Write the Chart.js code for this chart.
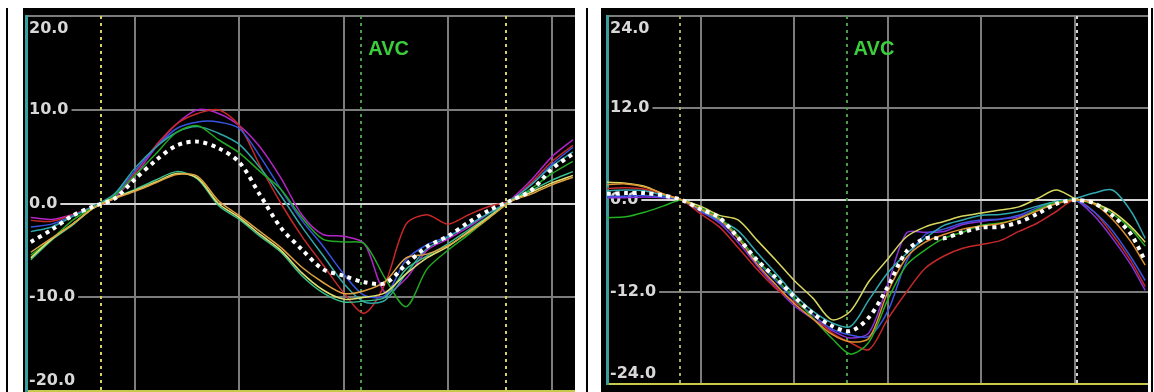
<!DOCTYPE html>
<html>
<head>
<meta charset="utf-8">
<script src="https://cdn.jsdelivr.net/npm/chart.js@4.4.1/dist/chart.umd.min.js"></script>
<style>
  body { margin: 0; background: #fff; width: 1154px; height: 392px; overflow: hidden; position: relative; }
  .panel { position: absolute; top: 8px; height: 384px; background: #000; }
  .rule { position: absolute; top: 8px; height: 384px; width: 2px; background: #000; }
</style>
</head>
<body>
<div class="rule" style="left:6px"></div>
<div class="panel" style="left:23px;width:552px"><canvas id="left"></canvas></div>
<div class="rule" style="left:586px"></div>
<div class="panel" style="left:601px;width:547px"><canvas id="right"></canvas></div>
<div class="rule" style="left:1151px"></div>
<script>
// left panel: time (ms) and strain curves
const leftTime = [0,20,40,60,80,100,120,140,160,180,200,220,240,260,280,300,320,340,360,380,400,420,440,460,480,500,520];
const leftMean    = [-4.1,-2.8,-1.3,-0.3,0.5,2.6,4.6,6.2,6.6,5.9,4.4,0.9,-2.6,-4.9,-7.0,-7.7,-8.4,-8.5,-6.5,-4.6,-3.5,-2.0,-0.7,0.3,1.4,3.7,5.3];
const leftMagenta = [-1.5,-1.7,-1.2,-0.4,0.6,3.0,6.0,8.5,10.0,9.6,8.3,6.0,2.7,-1.2,-3.3,-3.5,-4.3,-9.5,-8.0,-5.0,-3.8,-2.5,-1.0,0.4,2.5,5.0,6.8];
const leftRed     = [-1.8,-1.9,-1.2,-0.3,0.8,3.3,6.2,8.5,9.6,10.0,8.3,4.0,0.0,-3.5,-6.5,-9.5,-11.7,-8.5,-2.2,-1.2,-2.2,-1.2,-0.3,0.3,2.2,4.5,6.2];
const leftBlue    = [-2.5,-2.2,-1.3,-0.3,0.9,3.5,6.0,8.0,8.7,8.7,8.0,5.0,1.5,-1.8,-4.5,-7.5,-9.8,-9.8,-6.0,-4.4,-3.5,-2.3,-1.0,0.3,2.0,4.2,6.0];
const leftGreen   = [-5.5,-3.8,-1.8,-0.4,0.8,3.0,5.3,7.6,8.3,6.8,5.4,3.4,1.5,-1.5,-3.8,-4.1,-4.3,-8.0,-11.0,-7.0,-5.0,-3.3,-1.5,0.2,1.6,3.2,4.5];
const leftTeal    = [-3.0,-2.5,-1.4,-0.3,1.0,3.8,6.0,7.6,8.2,7.5,6.3,3.8,0.8,-2.5,-5.5,-8.5,-10.5,-10.3,-7.5,-4.8,-3.6,-2.3,-1.0,0.3,2.0,4.0,5.5];
const leftSea     = [-6.0,-3.9,-2.3,-0.5,0.6,1.5,2.5,3.4,2.6,-0.2,-1.7,-3.5,-5.2,-7.7,-9.5,-10.5,-10.4,-10.0,-7.0,-5.6,-4.3,-2.8,-1.3,0.3,1.4,2.5,3.4];
const leftYellow  = [-5.8,-3.8,-2.2,-0.5,0.6,1.4,2.3,3.2,2.7,0.0,-1.5,-3.3,-5.0,-7.4,-9.2,-10.2,-10.0,-9.5,-7.5,-5.8,-4.6,-3.0,-1.4,0.2,1.2,2.2,3.0];
const leftOrange  = [-5.2,-3.7,-2.2,-0.5,0.5,1.3,2.2,3.1,2.9,0.3,-1.3,-3.0,-4.7,-6.8,-8.4,-9.6,-9.3,-8.3,-5.8,-5.4,-4.5,-3.1,-1.5,0.2,1.0,2.0,2.8];
const leftEvents  = [67, 317, 456];

// right panel
const rightTime = [0,20,40,60,80,100,120,140,160,180,200,220,240,260,280,300,320,340,360,380,400,420,440,460,480,500,520,540,560,575];
const rightMean    = [0.8,0.9,0.9,0.6,0.0,-1.2,-2.3,-4.9,-7.8,-10.1,-12.6,-14.8,-16.4,-17.1,-15.3,-11.3,-6.7,-5.0,-5.0,-4.2,-3.6,-3.5,-2.9,-1.8,-0.5,0.0,-0.4,-2.0,-4.5,-8.0];
const rightRed     = [1.5,1.6,1.4,0.7,0.0,-1.8,-3.5,-6.2,-9.0,-11.5,-13.3,-15.0,-17.3,-18.6,-19.5,-15.5,-12.0,-8.9,-7.3,-6.3,-5.8,-5.3,-4.1,-3.0,-1.5,0.0,-1.5,-4.5,-8.0,-11.3];
const rightGreen   = [-2.3,-2.2,-1.6,-0.8,0.0,-1.0,-2.3,-4.7,-7.8,-10.2,-12.8,-15.4,-18.0,-20.1,-18.5,-13.0,-8.5,-6.5,-5.0,-4.2,-3.3,-3.0,-2.4,-1.2,-0.3,0.0,-0.5,-1.8,-3.8,-6.0];
const rightYellow  = [2.3,2.2,1.8,0.8,0.0,-0.8,-2.0,-2.6,-5.2,-7.8,-10.5,-12.8,-15.6,-14.5,-10.6,-7.7,-4.8,-3.5,-2.8,-2.1,-1.7,-1.3,-0.9,0.2,1.3,0.2,-0.4,-1.5,-3.5,-5.5];
const rightBlue    = [0.5,0.5,0.6,0.4,0.0,-1.4,-2.8,-5.0,-8.0,-10.5,-13.0,-15.0,-16.8,-17.6,-17.8,-14.5,-8.0,-4.5,-3.8,-3.0,-2.6,-2.5,-2.0,-1.0,-0.2,0.0,-1.5,-4.0,-7.5,-10.5];
const rightMagenta = [0.3,0.3,0.4,0.3,0.0,-1.5,-3.0,-5.5,-8.5,-11.3,-13.8,-15.5,-17.0,-18.0,-17.3,-11.0,-4.3,-4.2,-4.1,-3.2,-2.8,-2.5,-2.2,-1.3,-0.4,0.0,-2.0,-5.0,-8.5,-11.8];
const rightTeal    = [1.2,1.3,1.2,0.6,0.0,-1.3,-2.6,-4.0,-6.8,-9.5,-12.3,-14.5,-16.0,-16.5,-13.0,-9.5,-7.0,-5.0,-3.3,-2.6,-2.0,-1.9,-1.5,-0.8,-0.2,0.2,0.9,1.3,-1.5,-5.0];
const rightOrange  = [2.0,2.1,1.7,0.8,0.0,-1.2,-2.5,-5.0,-8.3,-11.0,-13.5,-15.5,-17.5,-18.5,-18.0,-12.0,-7.5,-5.5,-4.5,-3.8,-3.4,-3.1,-2.4,-1.4,-0.5,0.0,-0.5,-2.5,-5.5,-8.5];
const rightEvents  = [78, 256, 502];

const eventLabel = 'AVC';

const panelDecor = {
  id: 'panelDecor',
  beforeDatasetsDraw(chart, args, o) {
    const {ctx, chartArea: a, scales: {x, y}} = chart;
    ctx.save();
    o.events.forEach((at, i) => {
      const px = Math.round(x.getPixelForValue(at));
      ctx.strokeStyle = o.eventColors[i];
      ctx.lineWidth = 2;
      ctx.setLineDash([3, 4]);
      ctx.beginPath();
      ctx.moveTo(px, a.top);
      ctx.lineTo(px, a.bottom);
      ctx.stroke();
    });
    ctx.setLineDash([]);

    ctx.textBaseline = 'middle';
    ctx.textAlign = 'left';
    ctx.font = 'bold 20px "Liberation Sans", Arial, sans-serif';
    ctx.fillStyle = '#3ccd3c';
    ctx.fillText(eventLabel, x.getPixelForValue(o.events[1]) + 7, a.top + 33);

    ctx.font = 'bold 16px "DejaVu Sans", sans-serif';
    y.ticks.forEach(t => {
      let py = y.getPixelForValue(t.value);
      if (t.value === y.max) py += 13;
      else if (t.value === y.min) py -= 10;
      const txt = t.value.toFixed(1);
      const w = ctx.measureText(txt).width;
      ctx.fillStyle = '#000';
      ctx.fillRect(a.left + 2, py - 9, w + 4, 18);
      ctx.fillStyle = '#d8d8d8';
      ctx.fillText(txt, a.left + 3, py);
    });
    ctx.restore();
  }
};

function series(xs, ys, color, width) {
  return {
    data: xs.map((t, i) => ({x: t, y: ys[i]})),
    borderColor: color,
    borderWidth: width || 1.5,
    pointRadius: 0,
    tension: 0.3,
    order: 1
  };
}

function makePanel(id, xs, lines, mean, cfg) {
  const meanSet = series(xs, mean, '#ffffff', 4);
  meanSet.borderDash = [4, 4.5];
  meanSet.order = 0;
  return new Chart(document.getElementById(id), {
    type: 'line',
    data: { datasets: [meanSet].concat(lines.map(l => series(xs, l[0], l[1]))) },
    options: {
      responsive: true,
      maintainAspectRatio: false,
      animation: false,
      devicePixelRatio: 1,
      layout: { padding: cfg.padding },
      plugins: {
        legend: { display: false },
        tooltip: { enabled: false },
        panelDecor: { events: cfg.events, eventColors: cfg.eventColors }
      },
      scales: {
        x: {
          type: 'linear',
          min: cfg.xMin, max: cfg.xMax,
          ticks: { display: false, stepSize: 100, includeBounds: false },
          grid: { drawTicks: false, lineWidth: 2,
                  color: c => (c.tick && c.tick.value === 0 && cfg.xMin < 0) ? 'rgba(0,0,0,0)' : '#7c7c7c' },
          border: { color: '#c8c84a', width: 2 }
        },
        y: {
          min: -cfg.yMax, max: cfg.yMax,
          ticks: { display: false, stepSize: cfg.yMax / 2 },
          grid: { drawTicks: false, lineWidth: 2,
                  color: c => (c.tick && c.tick.value === 0) ? '#d4d4d4' : '#7c7c7c' },
          border: { color: '#3a9e9e', width: 3 }
        }
      }
    },
    plugins: [panelDecor]
  });
}

makePanel('left', leftTime, [
  [leftOrange, '#e0a040'],
  [leftYellow, '#e0e070'],
  [leftSea, '#38c08a'],
  [leftGreen, '#22a822'],
  [leftTeal, '#2fa6a6'],
  [leftBlue, '#3555e0'],
  [leftRed, '#c82828'],
  [leftMagenta, '#b424c8']
], leftMean, {
  xMin: -4.6, xMax: 522, yMax: 20,
  padding: { left: 3, top: 8, right: 0, bottom: 1 },
  events: leftEvents, eventColors: ['#d6d060', '#4a9a4a', '#d6d060']
});

makePanel('right', rightTime, [
  [rightOrange, '#e09030'],
  [rightYellow, '#d8d860'],
  [rightGreen, '#22b022'],
  [rightTeal, '#30a8b0'],
  [rightBlue, '#3a55e0'],
  [rightRed, '#c42828'],
  [rightMagenta, '#8a30d8']
], rightMean, {
  xMin: 0, xMax: 578, yMax: 24,
  padding: { left: 6, top: 8, right: 0, bottom: 8 },
  events: rightEvents, eventColors: ['#a8a860', '#4a9a4a', '#d8d8d8']
});
</script>
</body>
</html>
